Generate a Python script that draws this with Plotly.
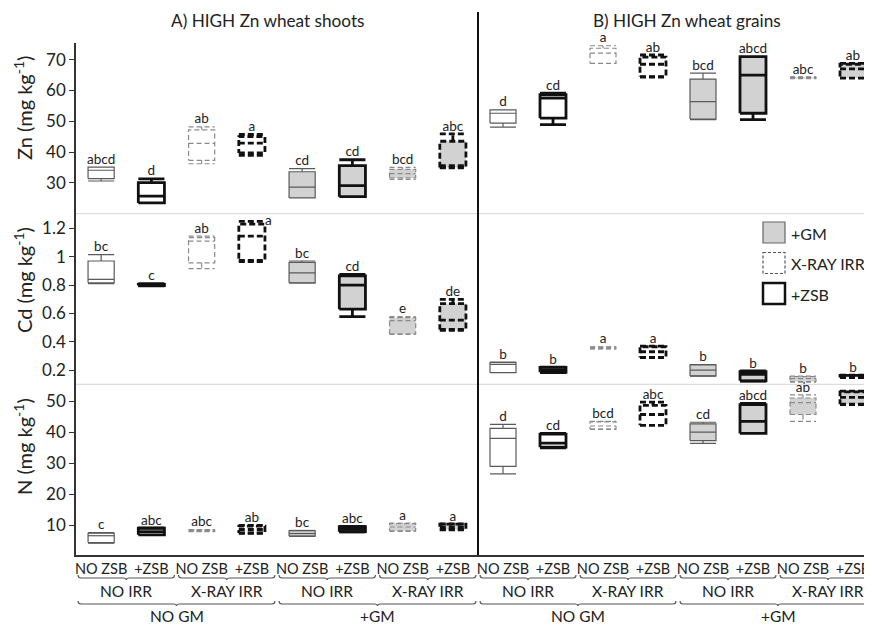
import plotly.graph_objects as go
from plotly.subplots import make_subplots

FONT = "Lato"

# ---------------- data ----------------
zsb_labels = ["NO ZSB", "+ZSB"] * 4
irr_labels = ["NO IRR", "X-RAY IRR", "NO IRR", "X-RAY IRR"]
gm_labels = ["NO GM", "+GM"]

# treatment factors for the 8 groups
gm_factor = [0, 0, 0, 0, 1, 1, 1, 1]
irr_factor = [0, 0, 1, 1, 0, 0, 1, 1]
zsb_factor = [0, 1, 0, 1, 0, 1, 0, 1]

# box statistics: (min, q1, median, q3, max)
zn_shoots = [(30.6, 31.4, 34.1, 35.1, 35.1), (23.5, 23.5, 25.7, 30.1, 31.3),
             (36.2, 37.3, 42.8, 47.2, 48.2), (38.9, 39.7, 42.9, 45.0, 45.7),
             (25.1, 25.1, 28.6, 33.6, 34.6), (25.5, 25.5, 29.1, 35.6, 37.5),
             (31.1, 31.6, 33.0, 34.4, 35.0), (34.9, 35.0, 35.6, 43.5, 45.9)]
zn_grains = [(48.1, 49.4, 52.6, 53.7, 53.7), (48.9, 51.0, 57.5, 58.6, 59.1),
             (68.8, 68.8, 72.1, 73.7, 74.5), (64.3, 64.5, 68.5, 70.8, 71.5),
             (50.5, 50.7, 56.4, 63.7, 65.6), (50.5, 52.6, 65.0, 71.0, 71.0),
             (63.8, 63.9, 64.1, 64.3, 64.4), (64.0, 64.0, 67.0, 68.5, 68.8)]
cd_shoots = [(0.81, 0.816, 0.84, 0.97, 1.015), (0.795, 0.797, 0.80, 0.805, 0.81),
             (0.917, 0.957, 1.11, 1.135, 1.145), (0.965, 0.975, 1.145, 1.23, 1.25),
             (0.815, 0.816, 0.886, 0.96, 0.97), (0.577, 0.63, 0.80, 0.865, 0.875),
             (0.452, 0.455, 0.55, 0.57, 0.577), (0.48, 0.487, 0.553, 0.67, 0.70)]
cd_grains = [(0.182, 0.182, 0.24, 0.253, 0.256), (0.182, 0.185, 0.20, 0.22, 0.222),
             (0.35, 0.352, 0.357, 0.362, 0.365), (0.288, 0.29, 0.33, 0.365, 0.37),
             (0.158, 0.16, 0.20, 0.238, 0.24), (0.123, 0.125, 0.17, 0.19, 0.194),
             (0.116, 0.12, 0.14, 0.155, 0.158), (0.147, 0.148, 0.155, 0.163, 0.165)]
n_shoots = [(4.3, 4.5, 6.7, 7.5, 7.7), (7.0, 7.0, 8.0, 9.1, 9.2),
            (8.0, 8.1, 8.4, 8.6, 8.7), (7.5, 7.6, 8.7, 9.8, 10.0),
            (6.5, 6.6, 7.4, 8.3, 8.4), (7.9, 8.0, 8.8, 9.6, 9.7),
            (8.1, 8.3, 9.5, 10.6, 10.8), (8.6, 8.7, 9.5, 10.4, 10.5)]
n_grains = [(26.6, 29.0, 38.0, 41.2, 42.5), (35.0, 35.2, 36.5, 39.4, 39.6),
            (40.9, 41.0, 42.0, 43.3, 43.5), (42.2, 42.2, 45.7, 48.6, 49.7),
            (36.4, 37.3, 40.0, 42.7, 43.2), (39.6, 39.6, 43.5, 48.9, 49.3),
            (43.5, 45.7, 49.5, 51.0, 52.0), (48.9, 49.0, 51.2, 53.0, 53.2)]

zn_shoots_letters = ["abcd", "d", "ab", "a", "cd", "cd", "bcd", "abc"]
zn_grains_letters = ["d", "cd", "a", "ab", "bcd", "abcd", "abc", "ab"]
cd_shoots_letters = ["bc", "c", "ab", "a", "bc", "cd", "e", "de"]
cd_grains_letters = ["b", "b", "a", "a", "b", "b", "b", "b"]
n_shoots_letters = ["c", "abc", "abc", "ab", "bc", "abc", "a", "a"]
n_grains_letters = ["d", "cd", "bcd", "abc", "cd", "abcd", "ab", ""]

zn_ticks = [30, 40, 50, 60, 70]
cd_ticks = [0.2, 0.4, 0.6, 0.8, 1.0, 1.2]
cd_tick_text = ["0.2", "0.4", "0.6", "0.8", "1", "1.2"]
n_ticks = [10, 20, 30, 40, 50]

# ---------------- figure ----------------
OFF = 8                      # page body margin of the written html
W, H = 872 - OFF, 625 - OFF
ML, MR, MT, MB = 76 - OFF, 0, 43 - OFF, 70
PW, PH = W - ML - MR, H - MT - MB
LEFT_W, RIGHT_W = 402, 394


def px_x(px):                # page pixel -> paper fraction
    return (px - OFF - ML) / PW


def px_y(py):
    return (MT + PH - (py - OFF)) / PH


fig = make_subplots(rows=3, cols=2, horizontal_spacing=0, vertical_spacing=0,
                    column_widths=[LEFT_W, RIGHT_W])

BW = 0.26


def add_box(row, col, x, stats, g, irr, z):
    lo, q1, med, q3, hi = stats
    color = "#111111" if z else ("#8a8a8a" if irr else "#5a5a5a")
    width = 2.8 if z else 1.2
    dash = ("6px,3px" if z else "5px,3px") if irr else "solid"
    fill = "#d2d2d2" if g else "white"
    line = dict(color=color, width=width, dash=dash)
    fig.add_trace(go.Scatter(x=[x - BW, x + BW, x + BW, x - BW, x - BW],
                             y=[q1, q1, q3, q3, q1], mode="lines", fill="toself",
                             fillcolor=fill, line=line, hoverinfo="skip",
                             showlegend=False), row=row, col=col)
    xs, ys = [x - BW, x + BW, None], [med, med, None]
    if hi > q3:
        xs += [x, x, None, x - BW, x + BW, None]
        ys += [q3, hi, None, hi, hi, None]
    if lo < q1:
        xs += [x, x, None, x - BW, x + BW, None]
        ys += [q1, lo, None, lo, lo, None]
    fig.add_trace(go.Scatter(x=xs, y=ys, mode="lines", line=line,
                             hoverinfo="skip", showlegend=False),
                  row=row, col=col)


panels = [
    (1, 1, zn_shoots, zn_shoots_letters),
    (1, 2, zn_grains, zn_grains_letters),
    (2, 1, cd_shoots, cd_shoots_letters),
    (2, 2, cd_grains, cd_grains_letters),
    (3, 1, n_shoots, n_shoots_letters),
    (3, 2, n_grains, n_grains_letters),
]

for row, col, data, letters in panels:
    for i, st in enumerate(data):
        add_box(row, col, i, st, gm_factor[i], irr_factor[i], zsb_factor[i])
    xs = list(range(len(data)))
    pos = ["top center"] * len(data)
    if data is cd_shoots:          # label sits beside the box at the top edge
        xs[3] = 3 + BW
        pos[3] = "middle right"
    keep = [k for k, t in enumerate(letters) if t]
    fig.add_trace(go.Scatter(x=[xs[k] for k in keep], y=[data[k][4] for k in keep],
                             mode="text", text=[letters[k] for k in keep],
                             textposition=[pos[k] for k in keep],
                             textfont=dict(family=FONT, size=13.5, color="#222"),
                             cliponaxis=False, hoverinfo="skip", showlegend=False),
                  row=row, col=col)

y_ranges = {1: [20, 75.4], 2: [0.1, 1.304], 3: [0.5, 55.4]}
y_ticks = {1: (zn_ticks, [str(v) for v in zn_ticks]),
           2: (cd_ticks, cd_tick_text),
           3: (n_ticks, [str(v) for v in n_ticks])}

for r in (1, 2, 3):
    for c in (1, 2):
        fig.update_xaxes(range=[-0.5, 7.5] if c == 1 else [-0.5, 7.38],
                         tickvals=list(range(8)), ticktext=zsb_labels,
                         showticklabels=(r == 3), showline=(r == 3),
                         linecolor="#333", linewidth=1.5, ticks="",
                         showgrid=False, zeroline=False,
                         tickfont=dict(family=FONT, size=14.5, color="#222"),
                         row=r, col=c)
        if c == 1:
            tv, tt = y_ticks[r]
            fig.update_yaxes(range=y_ranges[r], tickvals=tv, ticktext=tt,
                             showline=True, linecolor="#333", linewidth=1.5,
                             ticks="outside", ticklen=5, tickcolor="#333",
                             showgrid=False, zeroline=False,
                             tickfont=dict(family=FONT, size=17, color="#222"),
                             row=r, col=c)
        else:
            fig.update_yaxes(range=y_ranges[r], showticklabels=False,
                             showline=False, ticks="", showgrid=False,
                             zeroline=False, row=r, col=c)

shapes = []
annotations = []

# row separators
for frac in (1 / 3, 2 / 3):
    shapes.append(dict(type="line", xref="paper", yref="paper", x0=0, x1=1,
                       y0=frac, y1=frac, line=dict(color="#dddddd", width=1.2)))
# vertical divider
div_x = LEFT_W / (LEFT_W + RIGHT_W)
shapes.append(dict(type="line", xref="paper", yref="paper", x0=div_x, x1=div_x,
                   y0=0, y1=px_y(12), line=dict(color="#111", width=2)))

# panel titles
for txt, px in (("A) HIGH Zn wheat shoots", 268), ("B) HIGH Zn wheat grains", 687)):
    annotations.append(dict(text=txt, xref="paper", yref="paper", x=px_x(px),
                            y=px_y(20), showarrow=False, xanchor="center",
                            yanchor="middle",
                            font=dict(family=FONT, size=17.2, color="#222")))

# y titles
for py, txt in ((108, "Zn (mg kg<sup>-1</sup>)"), (280, "Cd (mg kg<sup>-1</sup>)"),
                (447, "N (mg kg<sup>-1</sup>)")):
    annotations.append(dict(text=txt, xref="paper", yref="paper", x=px_x(23),
                            y=px_y(py), showarrow=False, textangle=-90,
                            xanchor="center", yanchor="middle",
                            font=dict(family=FONT, size=20, color="#222")))


def brace(xref, x0, x1, py):
    yb, yt, yd = px_y(py), px_y(py - 3), px_y(py + 2)
    xm = (x0 + x1) / 2
    d = 0.06
    path = (f"M {x0},{yt} Q {x0},{yb} {x0 + d},{yb} L {xm - d},{yb} "
            f"Q {xm},{yb} {xm},{yd} Q {xm},{yb} {xm + d},{yb} "
            f"L {x1 - d},{yb} Q {x1},{yb} {x1},{yt}")
    return dict(type="path", xref=xref, yref="paper", path=path,
                line=dict(color="#555", width=1.1))


for xref in ("x5", "x6"):
    for k in range(4):
        shapes.append(brace(xref, 2 * k - 0.46, 2 * k + 1.46, 578))
        annotations.append(dict(text=irr_labels[k], xref=xref, yref="paper",
                                x=2 * k + 0.5, y=px_y(591), showarrow=False,
                                xanchor="center", yanchor="middle",
                                font=dict(family=FONT, size=15.5, color="#222")))
    for k in range(2):
        shapes.append(brace(xref, 4 * k - 0.46, 4 * k + 3.46, 604))
        annotations.append(dict(text=gm_labels[k], xref=xref, yref="paper",
                                x=4 * k + 1.5, y=px_y(616), showarrow=False,
                                xanchor="center", yanchor="middle",
                                font=dict(family=FONT, size=15.5, color="#222")))

# legend
legend_items = [("+GM", "#d2d2d2", "#666", 1.2, "solid"),
                ("X-RAY IRR", "white", "#555", 1.2, "3px,2px"),
                ("+ZSB", "white", "#111", 2.5, "solid")]
for j, (txt, fill, lc, lw, dash) in enumerate(legend_items):
    top = 222 + j * 30.5
    shapes.append(dict(type="rect", xref="paper", yref="paper",
                       x0=px_x(763), x1=px_x(785), y0=px_y(top), y1=px_y(top + 21),
                       fillcolor=fill, line=dict(color=lc, width=lw, dash=dash)))
    annotations.append(dict(text=txt, xref="paper", yref="paper", x=px_x(789),
                            y=px_y(top + 11), showarrow=False, xanchor="left",
                            yanchor="middle",
                            font=dict(family=FONT, size=16, color="#222")))

fig.update_layout(width=W, height=H, margin=dict(l=ML, r=MR, t=MT, b=MB),
                  plot_bgcolor="white", paper_bgcolor="white",
                  shapes=shapes, annotations=annotations, showlegend=False,
                  font=dict(family=FONT, color="#222"))

fig.write_html("out.html")
